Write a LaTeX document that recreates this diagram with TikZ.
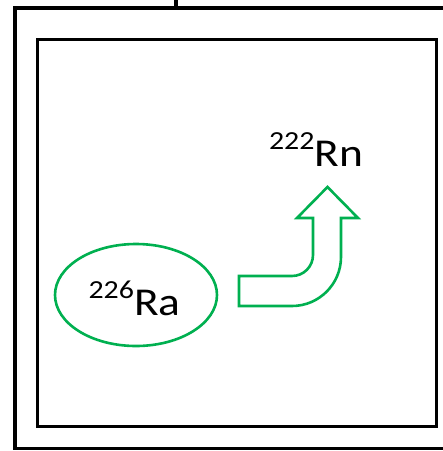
\documentclass[tikz,border=0pt]{standalone}
\usepackage{fontspec}
\usepackage{graphicx}
\setmainfont{Carlito}
\usetikzlibrary{shapes.geometric}
\definecolor{dgreen}{RGB}{0,176,80}
\newcommand\isotope[2]{\scalebox{1.15}[1]{\raisebox{17pt}{\fontsize{26}{26}\selectfont #1}\fontsize{39.5}{39.5}\selectfont #2}}
\tikzset{
  boxline/.style={draw=black,line width=3.2pt},
  greenline/.style={draw=dgreen,line width=2.6pt},
  isotext/.style={anchor=base,inner sep=0pt}
}
\begin{document}
\begin{tikzpicture}[x=1pt,y=-1pt]
\useasboundingbox (0,0) rectangle (443,451);
\clip (0,0) rectangle (443,451);
\fill[white] (0,0) rectangle (443,451);
% outer box and stub
\coordinate (stubtop) at (176,0);
\coordinate (stubbot) at (176,8);
\draw[boxline] (stubtop) -- (stubbot);
\draw[boxline] (15,8) rectangle (448,448.5);
% inner box
\draw[boxline,line width=3pt] (37,39) rectangle (436,426);
% radium ellipse
\node[ellipse,greenline,minimum width=162pt,minimum height=102pt,inner sep=0pt] (ra) at (136,295) {};
\node[isotext] (ralabel) at (134.5,315) {\isotope{226}{Ra}};
% radon
\node[isotext] (rn) at (316,166) {\isotope{222}{Rn}};
% bent arrow
\draw[greenline,line join=miter]
  (239,276) -- (292,276)
  .. controls (303.6,276) and (313,266.6) .. (313,255)
  -- (313,218) -- (297,218) -- (327.5,187) -- (358,218) -- (341,218)
  -- (341,257)
  .. controls (341,284.05) and (319.05,306) .. (292,306)
  -- (239,306) -- cycle;
\end{tikzpicture}
\end{document}
